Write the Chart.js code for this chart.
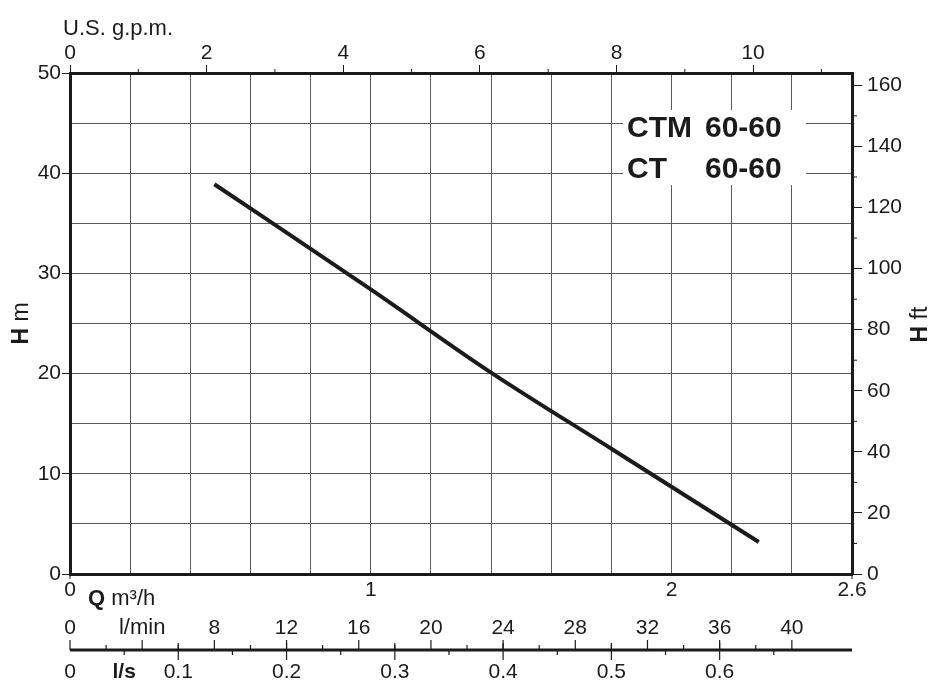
<!DOCTYPE html>
<html>
<head>
<meta charset="utf-8">
<script src="https://cdn.jsdelivr.net/npm/chart.js@4.4.0/dist/chart.umd.min.js"></script>
<style>
  html, body { margin: 0; padding: 0; background: #fff; }
  #wrap { width: 931px; height: 680px; position: relative; }
</style>
</head>
<body>
<div id="wrap"><canvas id="pumpChart"></canvas></div>
<script>
// curva H-Q (caudal en m3/h, altura en m)
const flowM3h = [0.48, 1.0, 1.4, 1.8, 2.29];
const headM   = [38.9, 28.4, 20.1, 12.5, 3.2];

// rangos y etiquetas de los ejes
const qMax = 2.6, hMax = 50;
const qLabels    = [0, 1, 2, 2.6];
const lminTicks  = [0, 4, 8, 12, 16, 20, 24, 28, 32, 36, 40];
const lsTicks    = [0, 0.05, 0.1, 0.2, 0.3, 0.4, 0.5, 0.6];
const modelLines = [['CTM', '60-60'], ['CT', '60-60']];

// factores de conversion desde m3/h y m
const GPM = 4.40287, FT = 3.28084, LMIN = 1000 / 60, LS = 1 / 3.6;

const ink = '#1b1b1b', gridCol = '#5a5a5a', none = 'rgba(0,0,0,0)';
const FONT = '"Liberation Sans", Arial, Helvetica, sans-serif';
Chart.defaults.font.family = FONT;
Chart.defaults.font.size = 21;
Chart.defaults.color = ink;

const near = (a, b) => Math.abs(a - b) < 1e-6;

function seg(c, x1, y1, x2, y2) {
  c.beginPath(); c.moveTo(x1, y1); c.lineTo(x2, y2); c.stroke();
}

// dibuja ticks menores, escalas l/min y l/s, textos y el recuadro del modelo
const extraAxes = {
  id: 'extraAxes',
  afterDraw(chart) {
    const c = chart.ctx, a = chart.chartArea, s = chart.scales;
    c.save();
    c.strokeStyle = ink; c.fillStyle = ink;

    // ticks menores
    c.lineWidth = 1;
    for (let g = 1; g < qMax * GPM; g += 2) {
      const x = s.gpm.getPixelForValue(g);
      seg(c, x, a.top, x, a.top - 4);
    }
    for (let f = 10; f < hMax * FT; f += 20) {
      const y = s.ft.getPixelForValue(f);
      seg(c, a.right, y, a.right + 5, y);
    }
    [0, qMax].forEach(q => {
      const x = s.x.getPixelForValue(q);
      seg(c, x, a.bottom, x, a.bottom + 5);
    });

    // escala inferior l/min y l/s
    const yb = a.bottom + 76;
    c.lineWidth = 3;
    seg(c, s.lmin.getPixelForValue(0), yb, s.lmin.getPixelForValue(qMax * LMIN), yb);
    c.lineWidth = 1.2;
    for (let v = 0; v <= 40; v += 2) {
      const x = s.lmin.getPixelForValue(v);
      seg(c, x, yb, x, yb - (v % 4 === 0 ? 10 : 5));
    }
    for (let k = 1; k <= 13; k++) {
      const x = s.ls.getPixelForValue(k * 0.05);
      if (k % 2 === 0) seg(c, x, yb - 7, x, yb + 10);
      else seg(c, x, yb, x, yb + 5);
    }
    c.textAlign = 'center';
    c.textBaseline = 'middle';
    lminTicks.forEach(v => {
      c.font = (v === 4 ? '22px ' : '21px ') + FONT;
      const t = v === 4 ? 'l/min' : String(v);
      c.fillText(t, s.lmin.getPixelForValue(v), yb - 22);
    });
    lsTicks.forEach(v => {
      c.font = near(v, 0.05) ? 'bold 21px ' + FONT : '21px ' + FONT;
      const t = near(v, 0.05) ? 'l/s' : String(v);
      c.fillText(t, s.ls.getPixelForValue(v), yb + 22);
    });

    // titulos de ejes
    c.textAlign = 'left';
    c.textBaseline = 'alphabetic';
    c.font = '22px ' + FONT;
    c.fillText('U.S. g.p.m.', a.left - 7, 35);

    c.font = 'bold 22px ' + FONT;
    c.fillText('Q', a.left + 18, a.bottom + 31);
    const qw = c.measureText('Q ').width;
    c.font = '22px ' + FONT;
    c.fillText('m\u00b3/h', a.left + 18 + qw, a.bottom + 31);

    const vertTitle = (x, y, rest) => {
      c.save();
      c.translate(x, y);
      c.rotate(-Math.PI / 2);
      c.font = 'bold 23px ' + FONT;
      const hw = c.measureText('H ').width;
      c.font = '23px ' + FONT;
      const rw = c.measureText(rest).width;
      const x0 = -(hw + rw) / 2;
      c.font = 'bold 23px ' + FONT;
      c.fillText('H', x0, 0);
      c.font = '23px ' + FONT;
      c.fillText(rest, x0 + hw, 0);
      c.restore();
    };
    vertTitle(28, (a.top + a.bottom) / 2, 'm');
    vertTitle(927, (a.top + a.bottom) / 2 + 1, 'ft');

    // recuadro con el modelo
    c.fillStyle = '#fff';
    c.fillRect(a.left + 553, a.top + 37, 183, 75);
    c.fillStyle = ink;
    c.font = 'bold 30px ' + FONT;
    modelLines.forEach((ln, i) => {
      const by = a.top + 64 + i * 40.5;
      c.fillText(ln[0], a.left + 557, by);
      c.fillText(ln[1], a.left + 635, by);
    });
    c.restore();
  }
};

new Chart(document.getElementById('pumpChart'), {
  type: 'line',
  data: {
    datasets: [{
      data: flowM3h.map((q, i) => ({ x: q, y: headM[i] })),
      xAxisID: 'x',
      yAxisID: 'y',
      borderColor: ink,
      borderWidth: 4,
      borderCapStyle: 'butt',
      pointRadius: 0,
      cubicInterpolationMode: 'monotone',
      fill: false
    }]
  },
  options: {
    responsive: true,
    maintainAspectRatio: false,
    animation: false,
    layout: { padding: 0 },
    plugins: { legend: { display: false }, tooltip: { enabled: false } },
    scales: {
      x: {
        type: 'linear', position: 'bottom', min: 0, max: qMax,
        ticks: {
          stepSize: 0.2, autoSkip: false, maxRotation: 0, padding: 4,
          callback: v => qLabels.some(l => near(l, v)) ? String(v) : ''
        },
        grid: {
          color: ctx => (near(ctx.tick.value, 0) || near(ctx.tick.value, qMax)) ? none : gridCol,
          lineWidth: 1, drawTicks: false
        },
        border: { color: ink, width: 3 },
        afterFit: sc => { sc.height = 106; }
      },
      y: {
        type: 'linear', position: 'left', min: 0, max: hMax,
        ticks: { stepSize: 5, padding: 1, callback: v => v % 10 === 0 ? v : '' },
        grid: {
          color: ctx => (near(ctx.tick.value, 0) || near(ctx.tick.value, hMax)) ? none : gridCol,
          lineWidth: 1, tickLength: 8,
          tickColor: ctx => ctx.tick.value % 10 === 0 ? ink : none
        },
        border: { color: ink, width: 3 },
        afterFit: sc => { sc.width = 70; }
      },
      gpm: {
        type: 'linear', axis: 'x', position: 'top', min: 0, max: qMax * GPM,
        ticks: { stepSize: 2, includeBounds: false, padding: -1, maxRotation: 0 },
        grid: { drawOnChartArea: false, tickLength: 8, tickColor: ink },
        border: { color: ink, width: 3 },
        afterFit: sc => { sc.height = 73; }
      },
      ft: {
        type: 'linear', axis: 'y', position: 'right', min: 0, max: hMax * FT,
        ticks: { stepSize: 20, includeBounds: false, padding: 5 },
        grid: { drawOnChartArea: false, tickLength: 10, tickColor: ink },
        border: { color: ink, width: 3 },
        afterFit: sc => { sc.width = 79; }
      },
      lmin: { type: 'linear', axis: 'x', position: 'bottom', display: false, min: 0, max: qMax * LMIN },
      ls:   { type: 'linear', axis: 'x', position: 'bottom', display: false, min: 0, max: qMax * LS }
    }
  },
  plugins: [extraAxes]
});
</script>
</body>
</html>
